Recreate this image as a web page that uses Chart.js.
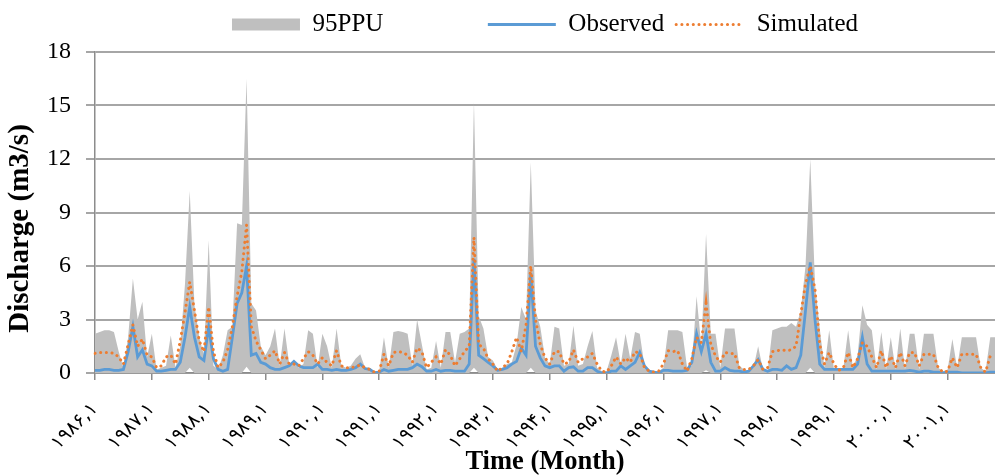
<!DOCTYPE html>
<html>
<head>
<meta charset="utf-8">
<script src="https://cdn.jsdelivr.net/npm/chart.js@4.4.1/dist/chart.umd.min.js"></script>
<style>
html,body{margin:0;padding:0;background:#ffffff;}
#wrap{width:995px;height:475px;position:relative;}
</style>
</head>
<body>
<div id="wrap"><canvas id="c" width="995" height="475"></canvas></div>
<script>
// ---------- DATA ----------
const yearLabels = ['۱۹۸۶,۱','۱۹۸۷,۱','۱۹۸۸,۱','۱۹۸۹,۱','۱۹۹۰,۱','۱۹۹۱,۱','۱۹۹۲,۱','۱۹۹۳,۱',
                    '۱۹۹۴,۱','۱۹۹۵,۱','۱۹۹۶,۱','۱۹۹۷,۱','۱۹۹۸,۱','۱۹۹۹,۱','۲۰۰۰,۱','۲۰۰۱,۱'];
const firstYear = 1986;
const monthCount = 191; // 1986,1 ... 2001,11

const upper95 = [
  2.2,2.3,2.4,2.4,2.3,1.2,0.3,2.0,5.3,3.0,4.0,0.9,        // 1986
  2.2,0.2,0.3,0.4,2.1,0.3,1.5,5.0,10.2,3.8,2.0,1.0,       // 1987
  7.45,0.4,0.2,1.0,2.4,2.6,8.4,8.3,16.5,3.9,3.5,1.5,      // 1988
  1.0,1.5,2.5,0.4,2.5,0.5,0.6,0.3,0.5,2.4,2.2,0.3,        // 1989
  2.2,1.5,0.3,2.5,0.4,0.3,0.4,0.8,1.05,0.3,0.3,0.05,      // 1990
  0.1,2.0,0.3,2.3,2.35,2.3,2.2,0.4,3.0,1.6,0.2,0.3,       // 1991
  1.8,0.3,2.3,2.3,0.6,2.2,2.3,2.5,15.2,3.2,2.5,0.9,       // 1992
  0.7,0.2,0.3,0.5,0.6,1.6,3.7,3.0,11.8,3.5,2.6,0.85,      // 1993
  0.5,2.6,2.5,0.4,0.5,2.65,0.4,0.5,1.5,2.35,0.3,0.1,      // 1994
  0.1,1.0,2.0,0.5,2.2,0.8,2.3,2.2,0.4,0.1,0.1,0.1,        // 1995
  0.3,2.4,2.4,2.4,2.3,0.3,0.4,4.3,1.5,7.8,2.2,2.2,        // 1996
  0.3,2.5,2.5,2.5,0.4,0.2,0.1,0.3,1.5,0.2,0.1,2.4,        // 1997
  2.5,2.6,2.6,2.8,2.6,3.5,6.0,12.0,5.0,2.5,0.3,2.4,       // 1998
  0.2,0.2,0.3,2.4,0.3,1.0,3.8,2.7,2.4,0.2,2.3,0.2,        // 1999
  2.0,0.2,2.5,0.2,2.2,2.2,0.2,2.2,2.2,2.2,0.3,0.1,        // 2000
  0.2,1.9,0.3,2.0,2.0,2.0,2.0,0.3,0.1,2.0,2.0             // 2001
];
const lower95 = [
  0,0,0,0,0,0,0,0,0,0,0,0,
  0,0,0,0,0,0,0,0,0.3,0,0,0,
  0,0,0,0,0,0,0,0,0.35,0,0,0,
  0,0,0,0,0,0,0,0,0,0,0,0,
  0,0,0,0,0,0,0,0,0,0,0,0,
  0,0,0,0,0,0,0,0,0,0,0,0,
  0,0,0,0,0,0,0,0,0.3,0,0,0,
  0,0,0,0,0,0,0,0,0.3,0,0,0,
  0,0,0,0,0,0,0,0,0,0,0,0,
  0,0,0,0,0,0,0,0,0,0,0,0,
  0,0,0,0,0,0,0,0,0,0.15,0,0,
  0,0,0,0,0,0,0,0,0,0,0,0,
  0,0,0,0,0,0,0,0.3,0,0,0,0,
  0,0,0,0,0,0,0,0,0,0,0,0,
  0,0,0,0,0,0,0,0,0,0,0,0,
  0,0,0,0,0,0,0,0,0,0,0
];
const observed = [
  0.15,0.15,0.2,0.2,0.15,0.15,0.2,1.2,2.6,0.9,1.3,0.5,
  0.4,0.1,0.1,0.15,0.2,0.2,0.6,2.0,3.7,2.0,0.9,0.7,
  2.6,0.8,0.2,0.1,0.2,2.0,3.9,4.5,6.0,1.0,1.1,0.6,
  0.5,0.3,0.2,0.2,0.3,0.4,0.65,0.4,0.3,0.3,0.3,0.5,
  0.2,0.2,0.15,0.2,0.15,0.15,0.2,0.3,0.5,0.25,0.2,0.02,
  0.05,0.2,0.1,0.15,0.2,0.2,0.2,0.3,0.5,0.35,0.1,0.1,
  0.2,0.1,0.15,0.15,0.1,0.1,0.1,0.5,6.4,1.0,0.8,0.6,
  0.4,0.15,0.2,0.3,0.5,0.65,1.4,1.0,5.6,1.5,0.85,0.4,
  0.3,0.4,0.4,0.1,0.3,0.35,0.1,0.1,0.3,0.3,0.1,0.0,
  0.0,0.1,0.1,0.4,0.2,0.4,0.6,1.15,0.4,0.1,0.05,0.0,
  0.15,0.15,0.1,0.1,0.1,0.15,0.6,2.2,1.2,2.2,0.6,0.1,
  0.1,0.3,0.15,0.1,0.1,0.05,0.1,0.4,0.75,0.2,0.1,0.2,
  0.2,0.15,0.4,0.2,0.3,1.0,3.5,6.2,3.0,0.5,0.2,0.2,
  0.2,0.2,0.2,0.2,0.2,0.5,2.0,0.5,0.1,0.1,0.1,0.1,
  0.1,0.1,0.1,0.1,0.15,0.1,0.05,0.1,0.1,0.05,0.05,0.0,
  0.05,0.05,0.05,0.0,0.0,0.0,0.0,0.0,0.0,0.05,0.05
];
const simulated = [
  1.1,1.15,1.15,1.15,1.1,0.9,0.5,1.6,2.7,1.5,1.9,1.0,
  0.9,0.3,0.4,0.9,1.0,0.5,1.8,3.4,5.1,3.5,1.8,1.2,
  3.7,1.2,0.3,0.6,1.3,2.6,4.3,5.7,8.3,2.6,1.8,1.3,
  0.8,1.0,1.25,0.5,1.15,0.5,0.5,0.4,0.8,1.2,1.0,0.5,
  0.86,0.6,0.4,1.25,0.4,0.3,0.3,0.35,0.45,0.3,0.2,0.05,
  0.1,1.05,0.4,1.15,1.2,1.15,1.0,0.6,1.4,1.2,0.3,0.6,
  0.9,0.5,1.3,1.0,0.4,0.8,1.2,1.5,7.6,1.6,1.4,0.8,
  0.5,0.1,0.3,0.5,1.2,2.0,1.2,2.7,6.0,3.0,1.6,0.85,
  0.5,1.2,1.2,0.5,0.6,1.3,0.6,0.8,0.9,1.1,0.5,0.1,
  0.05,0.4,0.9,0.5,0.85,0.6,1.2,1.1,0.3,0.1,0.05,0.1,
  0.5,1.25,1.2,1.25,0.5,0.1,0.8,2.0,1.7,3.9,1.6,0.95,
  0.6,1.15,1.1,1.1,0.3,0.2,0.2,0.4,0.75,0.2,0.3,1.2,
  1.25,1.3,1.25,1.3,1.5,3.3,5.0,6.0,4.7,1.6,0.5,1.15,
  0.5,0.15,0.3,1.15,0.3,0.8,1.7,1.5,0.9,0.3,1.25,0.3,
  0.95,0.3,1.15,0.4,1.15,1.15,0.4,1.05,1.05,1.05,0.3,0.05,
  0.1,0.85,0.3,1.05,1.05,1.05,1.05,0.3,0.05,0.95,0.95
];
const yMin = 0, yMax = 18, yStep = 3;
const seriesNames = ['95PPU', 'Observed', 'Simulated'];
const xTitle = 'Time (Month)';
const yTitle = 'Discharge (m3/s)';

// ---------- CATEGORIES (month labels) ----------
const faDigits = '۰۱۲۳۴۵۶۷۸۹';
const toFa = s => String(s).replace(/[0-9]/g, d => faDigits[+d]);
const months = [];
for (let k = 0; k < monthCount; k++) {
  months.push(toFa((firstYear + Math.floor(k / 12)) + ',' + (k % 12 + 1)));
}

// ---------- STYLE ----------
const SERIF = "'Liberation Serif', 'Times New Roman', 'DejaVu Serif', serif";
const BAND = '#bfbfbf';
const BLUE = '#5b9bd5';
const ORANGE = '#ed7d31';
const GRID = '#a6a6a6';
const AXIS = '#8c8c8c';
const DOTS = [0.1, 5.6];

const chart = new Chart(document.getElementById('c'), {
  type: 'line',
  data: {
    labels: months,
    datasets: [
      { label: seriesNames[2], data: simulated, borderColor: ORANGE, borderWidth: 3,
        borderDash: DOTS, borderCapStyle: 'round', pointRadius: 0, fill: false, tension: 0 },
      { label: seriesNames[1], data: observed, borderColor: BLUE, borderWidth: 2.8,
        pointRadius: 0, fill: false, tension: 0 },
      { label: seriesNames[0], data: upper95, borderWidth: 0, borderColor: 'rgba(0,0,0,0)',
        backgroundColor: BAND, pointRadius: 0, fill: '+1', tension: 0 },
      { label: 'lower', data: lower95, borderWidth: 0, borderColor: 'rgba(0,0,0,0)',
        pointRadius: 0, fill: false, tension: 0 }
    ]
  },
  options: {
    responsive: false,
    animation: false,
    devicePixelRatio: 1,
    events: [],
    layout: { padding: { top: 0, right: 0, bottom: 0, left: 0 } },
    plugins: {
      tooltip: { enabled: false },
      legend: {
        display: true,
        position: 'top',
        fullSize: false,
        labels: {
          usePointStyle: true,
          pointStyleWidth: 68,
          boxHeight: 12,
          padding: 12,
          color: '#000',
          font: { family: SERIF, size: 25 },
          generateLabels: () => [
            { text: seriesNames[0], fillStyle: BAND, strokeStyle: BAND, lineWidth: 0, pointStyle: 'rect', datasetIndex: 2 },
            { text: '', fillStyle: 'rgba(0,0,0,0)', strokeStyle: 'rgba(0,0,0,0)', lineWidth: 0, pointStyle: 'line' },
            { text: seriesNames[1], fillStyle: 'rgba(0,0,0,0)', strokeStyle: BLUE, lineWidth: 2.8, pointStyle: 'line', datasetIndex: 1 },
            { text: seriesNames[2], fillStyle: 'rgba(0,0,0,0)', strokeStyle: ORANGE, lineWidth: 3,
              lineDash: DOTS, lineCap: 'round', pointStyle: 'line', datasetIndex: 0 }
          ]
        }
      },
      subtitle: {
        display: true, text: '', position: 'top', weight: 500, fullSize: false,
        padding: 0, font: { size: 5, lineHeight: 1 }
      }
    },
    scales: {
      x: {
        type: 'category',
        offset: false,
        grid: {
          display: true,
          drawOnChartArea: false,
          drawTicks: true,
          tickLength: 7,
          lineWidth: 1.5,
          color: ctx => (ctx.index % 12 === 0 ? AXIS : 'rgba(0,0,0,0)')
        },
        border: { display: true, color: AXIS, width: 1.5 },
        ticks: {
          autoSkip: false,
          minRotation: 45,
          maxRotation: 45,
          padding: 18,
          color: '#000',
          font: { family: "'DejaVu Sans', " + SERIF, size: 19 },
          callback: (v, i) => (i % 12 === 0 ? yearLabels[i / 12] : '')
        },
        title: {
          display: true,
          text: xTitle,
          color: '#000',
          font: { family: SERIF, size: 26.5, weight: 'bold', lineHeight: 1 },
          padding: { top: 0, bottom: 0 }
        },
        afterFit: s => {
          s.height = 102; s.paddingRight = 0; s.paddingLeft = 0;
          if (!s._spaced) {
            const orig = s.drawLabels;
            s.drawLabels = function (area) {
              const c = this.ctx;
              const prev = c.letterSpacing;
              c.letterSpacing = '4.5px';
              orig.call(this, area);
              c.letterSpacing = prev || '0px';
            };
            s._spaced = true;
          }
        }
      },
      y: {
        min: yMin, max: yMax,
        ticks: {
          stepSize: yStep,
          padding: 15,
          color: '#000',
          font: { family: SERIF, size: 24 }
        },
        grid: { color: GRID, lineWidth: 2, tickLength: 9, drawTicks: true },
        border: { display: true, color: AXIS, width: 1.5 },
        title: {
          display: true,
          text: yTitle,
          color: '#000',
          font: { family: SERIF, size: 29, weight: 'bold', lineHeight: 1 },
          padding: { top: 6, bottom: 0 }
        },
        afterFit: s => {
          s.width = 95;
          if (!s._shifted) {
            const orig = s.drawTitle;
            s.drawTitle = function () {
              const c = this.ctx;
              c.save();
              c.translate(0, 16);
              orig.call(this);
              c.restore();
            };
            s._shifted = true;
          }
        }
      }
    }
  }
});
</script>
</body>
</html>
